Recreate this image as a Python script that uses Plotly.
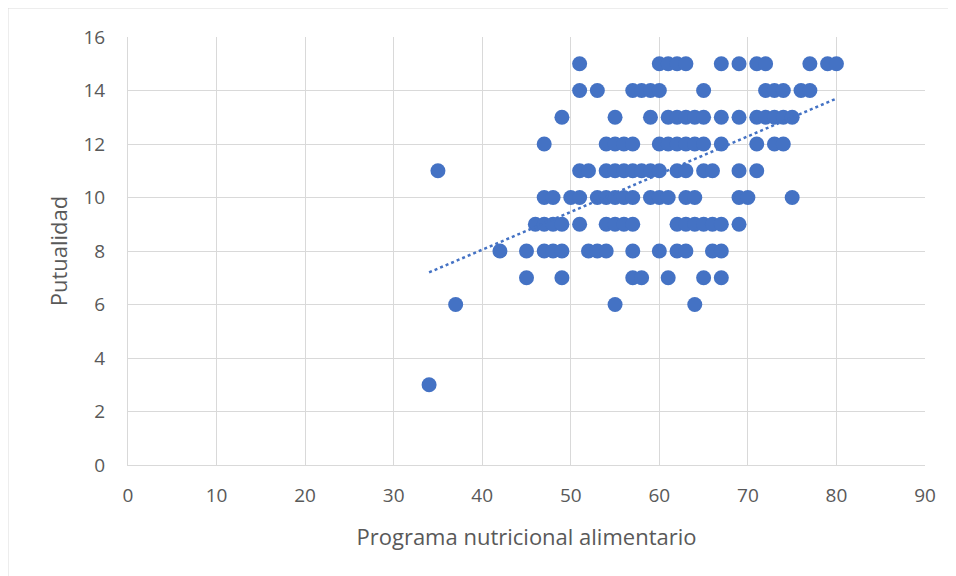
import plotly.graph_objects as go

# Data (Programa nutricional alimentario vs Putualidad)
programa = [
    34, 35, 37,
    42, 45, 47, 48, 49, 52, 53, 54, 57, 60, 62, 63, 66, 67,
    45, 49, 57, 58, 61, 65, 67,
    55, 64,
    46, 47, 48, 49, 51, 54, 55, 56, 57, 62, 63, 64, 65, 66, 67, 69,
    47, 48, 50, 51, 53, 54, 55, 56, 57, 59, 60, 61, 63, 64, 69, 70, 75,
    51, 52, 54, 55, 56, 57, 58, 59, 60, 62, 63, 65, 66, 69, 71,
    47, 54, 55, 56, 57, 60, 61, 62, 63, 64, 65, 67, 71, 73, 74,
    49, 55, 59, 61, 62, 63, 64, 65, 67, 69, 71, 72, 73, 74, 75,
    51, 53, 57, 58, 59, 60, 65, 72, 73, 74, 76, 77,
    51, 60, 61, 62, 63, 67, 69, 71, 72, 77, 79, 80,
]
putualidad = (
    [3, 11, 6]
    + [8] * 14
    + [7] * 7
    + [6] * 2
    + [9] * 16
    + [10] * 17
    + [11] * 15
    + [12] * 15
    + [13] * 15
    + [14] * 12
    + [15] * 12
)

# Excel linear trendline endpoints
trend_x = [34, 80]
trend_y = [7.2, 13.7]

BLUE = '#4472C4'
GRID = '#d9d9d9'
TEXT = '#595959'
FONT = 'Open Sans'

fig = go.Figure()
fig.add_trace(go.Scatter(
    x=programa, y=putualidad, mode='markers',
    marker=dict(color=BLUE, size=15, line=dict(width=0)),
    showlegend=False, hoverinfo='x+y'))
fig.add_trace(go.Scatter(
    x=trend_x, y=trend_y, mode='lines',
    line=dict(color=BLUE, width=2.5, dash='dot'),
    showlegend=False, hoverinfo='skip'))

# the page body adds an 8px offset, margins are set to compensate
fig.update_layout(
    width=956, height=576,
    margin=dict(l=120, r=39, t=29, b=119),
    paper_bgcolor='white', plot_bgcolor='white',
    font=dict(family=FONT, color=TEXT, size=16),
    xaxis=dict(
        range=[0, 90], dtick=10, tick0=0,
        showgrid=True, gridcolor=GRID, gridwidth=1,
        zeroline=False, showline=True, linecolor=GRID, linewidth=1,
        ticks='', tickfont=dict(size=19, color=TEXT), ticklabelstandoff=13,
        title=dict(text='Programa nutricional alimentario',
                   font=dict(size=22, color=TEXT), standoff=22),
    ),
    yaxis=dict(
        range=[0, 16], dtick=2, tick0=0,
        showgrid=True, gridcolor=GRID, gridwidth=1,
        zeroline=False, showline=True, linecolor=GRID, linewidth=1,
        ticks='', tickfont=dict(size=19, color=TEXT), ticklabelstandoff=18,
        title=dict(text='Putualidad', font=dict(size=22, color=TEXT), standoff=9),
    ),
    shapes=[dict(
        type='rect', xref='paper', yref='paper',
        x0=-0.1506, x1=1.1, y0=-0.5, y1=1.0678,
        line=dict(color=GRID, width=1), fillcolor='rgba(0,0,0,0)', layer='below')],
)

fig.write_html("out.html")
